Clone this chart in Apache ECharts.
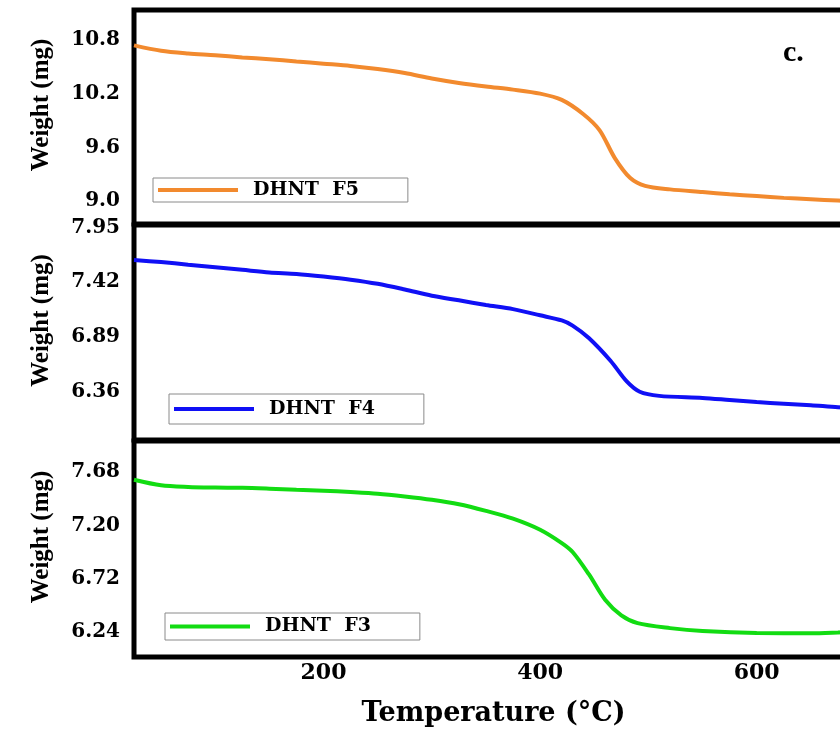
<!DOCTYPE html>
<html>
<head>
<meta charset="utf-8">
<script src="https://cdn.jsdelivr.net/npm/echarts@6/dist/echarts.min.js"></script>
<style>
html,body{margin:0;padding:0;background:#fff;overflow:hidden;width:840px;height:731px;}
#chart{width:900px;height:731px;}
</style>
</head>
<body>
<div id="chart"></div>
<script>
// ---- data ----
const seriesNames = ['DHNT  F5', 'DHNT  F4', 'DHNT  F3'];
const xTicks = [200, 400, 600];
const f5Ticks = [9.0, 9.6, 10.2, 10.8];
const f4Ticks = [6.36, 6.89, 7.42, 7.95];
const f3Ticks = [6.24, 6.72, 7.20, 7.68];

const f5Temp   = [25, 50, 75, 100, 125, 150, 175, 200, 225, 250, 275, 300, 325, 350, 375, 400, 420, 440, 455, 469, 483, 497, 520, 550, 575, 600, 625, 650, 675, 700];
const f5Weight = [10.74, 10.68, 10.65, 10.63, 10.605, 10.585, 10.56, 10.535, 10.51, 10.475, 10.43, 10.37, 10.32, 10.28, 10.245, 10.20, 10.13, 9.97, 9.79, 9.48, 9.26, 9.17, 9.13, 9.10, 9.075, 9.055, 9.035, 9.02, 9.005, 8.99];

const f4Temp   = [25, 50, 75, 100, 125, 150, 175, 200, 225, 250, 275, 300, 325, 350, 375, 400, 420, 430, 445, 465, 480, 492, 510, 550, 575, 600, 625, 650, 675, 700];
const f4Weight = [7.635, 7.615, 7.59, 7.565, 7.54, 7.515, 7.50, 7.475, 7.445, 7.405, 7.35, 7.29, 7.245, 7.20, 7.16, 7.10, 7.05, 7.00, 6.88, 6.66, 6.46, 6.36, 6.32, 6.30, 6.28, 6.26, 6.245, 6.23, 6.21, 6.20];

const f3Temp   = [25, 50, 75, 100, 125, 150, 175, 200, 225, 250, 275, 300, 325, 350, 375, 400, 420, 430, 445, 460, 475, 490, 520, 550, 600, 650, 675, 700];
const f3Weight = [7.61, 7.56, 7.545, 7.54, 7.538, 7.53, 7.52, 7.512, 7.50, 7.485, 7.46, 7.43, 7.39, 7.33, 7.26, 7.16, 7.04, 6.96, 6.76, 6.53, 6.39, 6.32, 6.275, 6.248, 6.23, 6.228, 6.235, 6.245];

const colors = ['#F28A2E', '#1010F5', '#12DC12'];

// ---- layout ----
const gridLeft = 134, gridWidth = 731;
const grids = [
  {top: 10, height: 214},
  {top: 225, height: 215},
  {top: 441, height: 216}
];
const yRanges = [[8.743, 11.135], [5.893, 7.974], [6.015, 7.959]];
const yTicks = [f5Ticks, f4Ticks, f3Ticks];
const yDec = [1, 2, 2];
const legendPos = [
  {left: 153, top: 178, h: 24},
  {left: 169, top: 394, h: 30},
  {left: 165, top: 613, h: 27}
];

function pairs(t, w) { return t.map((x, i) => [x, w[i]]); }
const dataSets = [pairs(f5Temp, f5Weight), pairs(f4Temp, f4Weight), pairs(f3Temp, f3Weight)];

const chart = echarts.init(document.getElementById('chart'), null, {renderer: 'canvas'});

const option = {
  animation: false,
  backgroundColor: '#fff',
  title: {
    text: 'c.', left: 778, top: 33,
    textStyle: {fontFamily: 'Liberation Serif', fontWeight: 'bold', fontSize: 30, color: '#000'}
  },
  grid: grids.map(g => ({
    left: gridLeft, width: gridWidth, top: g.top, height: g.height,
    show: true, borderColor: '#000', borderWidth: 5, backgroundColor: 'transparent'
  })),
  xAxis: grids.map((g, i) => ({
    type: 'value', gridIndex: i, min: 25, max: 700,
    axisLine: {show: false}, axisTick: {show: false}, splitLine: {show: false},
    axisLabel: i === 2 ? {
      show: true, customValues: xTicks, margin: 5,
      fontFamily: 'DejaVu Serif', fontWeight: 'bold', fontSize: 22, color: '#000'
    } : {show: false},
    name: i === 2 ? 'Temperature (°C)' : '',
    nameLocation: 'middle', nameGap: 43,
    nameTextStyle: {fontFamily: 'DejaVu Serif', fontWeight: 'bold', fontSize: 27, color: '#000', padding: [0, 12, 0, 0]}
  })),
  yAxis: grids.map((g, i) => ({
    type: 'value', gridIndex: i, min: yRanges[i][0], max: yRanges[i][1],
    axisLine: {show: false}, axisTick: {show: false}, splitLine: {show: false},
    axisLabel: {
      show: true, customValues: yTicks[i], margin: 14,
      formatter: v => v.toFixed(yDec[i]),
      fontFamily: 'DejaVu Serif', fontWeight: 'bold', fontSize: 20, color: '#000'
    },
    name: 'Weight (mg)', nameLocation: 'middle', nameGap: 80,
    nameTextStyle: {fontFamily: 'Liberation Serif', fontWeight: 'bold', fontSize: 25, color: '#000', padding: [0, 0, 0, 24]}
  })),
  legend: seriesNames.map((n, i) => ({
    data: [n], left: legendPos[i].left, top: legendPos[i].top,
    orient: 'horizontal', icon: 'rect', itemWidth: 80, itemHeight: 4,
    borderColor: '#8a8a8a', borderWidth: 1, borderRadius: 0,
    padding: [(legendPos[i].h - 19) / 2, 49, (legendPos[i].h - 19) / 2, 5],
    textStyle: {fontFamily: 'DejaVu Serif', fontWeight: 'bold', fontSize: 19, color: '#000', padding: [0, 0, 0, 10]},
    selectedMode: false
  })),
  series: seriesNames.map((n, i) => ({
    name: n, type: 'line', xAxisIndex: i, yAxisIndex: i,
    data: dataSets[i], showSymbol: false, smooth: 0.3,
    color: colors[i],
    lineStyle: {width: 4, color: colors[i]}
  }))
};
chart.setOption(option);
</script>
</body>
</html>
